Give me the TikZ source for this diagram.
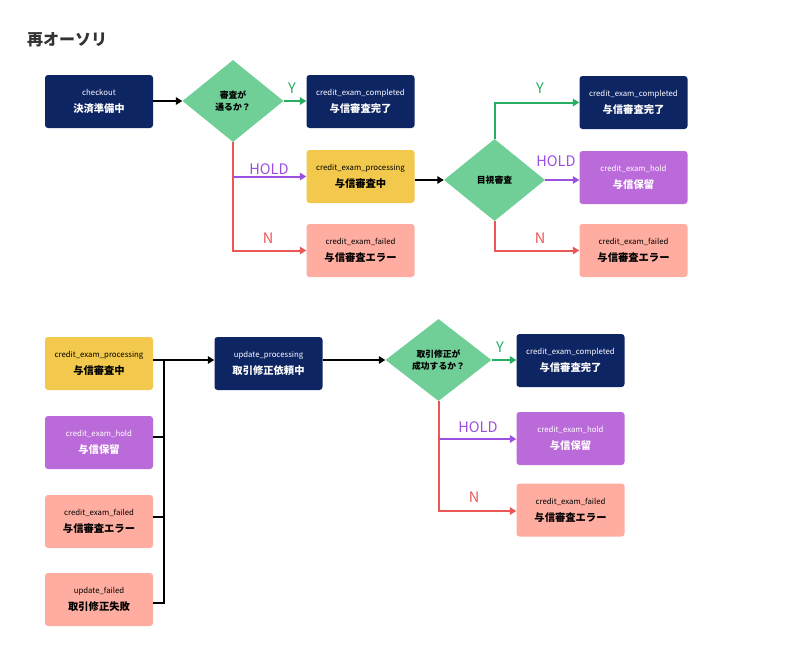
\documentclass[tikz,border=0pt]{standalone}
\usepackage{fontspec}
\setmainfont{Noto Sans CJK JP}
\usetikzlibrary{shapes.geometric,arrows.meta}
\definecolor{navy}{HTML}{0E2564}
\definecolor{dgreen}{HTML}{6FCF97}
\definecolor{yel}{HTML}{F2C94C}
\definecolor{purp}{HTML}{BB6BD9}
\definecolor{salmon}{HTML}{FFADA0}
\definecolor{lgreen}{HTML}{27AE60}
\definecolor{lpurp}{HTML}{9B51E0}
\definecolor{lred}{HTML}{EB5757}
\definecolor{ttl}{HTML}{333333}
\tikzset{
  box/.style={rounded corners=3pt, minimum width=108pt, minimum height=53pt, inner sep=0pt, align=center},
  navybox/.style={box, fill=navy, text=white},
  yelbox/.style={box, fill=yel, text=black},
  purpbox/.style={box, fill=purp, text=white},
  salbox/.style={box, fill=salmon, text=black},
  dia/.style={diamond, fill=dgreen, minimum width=101pt, minimum height=82pt, inner sep=0pt, align=center, font=\fontsize{8.8}{12}\selectfont\bfseries},
  conn/.style={line width=2pt},
  arr/.style={conn, -{Triangle[length=6.5pt,width=7.5pt]}},
  lab/.style={font=\fontsize{14.5}{16}\selectfont, inner sep=0pt},
}
\newcommand{\bx}[2]{{\fontsize{7.8}{9}\selectfont #1}\\[5pt]{\fontsize{10.3}{12}\selectfont\bfseries #2}}
\begin{document}
\begin{tikzpicture}[x=1pt,y=-1pt]
\useasboundingbox[fill=white] (0,0) rectangle (800,654);
\node[anchor=west, text=ttl, font=\fontsize{16}{18}\selectfont\bfseries, inner sep=0pt] (title) at (27,40) {再オーソリ};

% top row
\node[navybox] (co) at (99,101.5) {\bx{checkout}{決済準備中}};
\node[dia] (d1) at (233,101) {審査が\\通るか？};
\node[navybox] (c1) at (360.5,101.5) {\bx{credit\_exam\_completed}{与信審査完了}};
\node[yelbox] (p1) at (360.5,176.5) {\bx{credit\_exam\_processing}{与信審査中}};
\node[salbox] (f1) at (360.5,250.5) {\bx{credit\_exam\_failed}{与信審査エラー}};
\node[dia] (d2) at (494.5,180) {目視審査};
\node[navybox] (c2) at (633.5,102.5) {\bx{credit\_exam\_completed}{与信審査完了}};
\node[purpbox] (h2) at (633.5,177.5) {\bx{credit\_exam\_hold}{与信保留}};
\node[salbox] (f2) at (633.5,250.5) {\bx{credit\_exam\_failed}{与信審査エラー}};

\draw[arr] (co.east |- d1.west) -- (d1.west);
\draw[arr, lgreen] (d1.east) -- (c1.west |- d1.east);
\draw[arr, lred] (d1.south) |- (f1.west);
\draw[arr, lpurp] (d1.south |- p1.west) -- (p1.west);
\draw[arr] (p1.east |- d2.west) -- (d2.west);
\draw[arr, lgreen] (d2.north) |- (c2.west);
\draw[arr, lpurp] (d2.east) -- (h2.west |- d2.east);
\draw[arr, lred] (d2.south) |- (f2.west);

\node[lab, text=lgreen] (y1) at (292,88) {Y};
\node[lab, text=lpurp] (hl1) at (269,169) {HOLD};
\node[lab, text=lred] (n1) at (268,238) {N};
\node[lab, text=lgreen] (y2) at (540,88) {Y};
\node[lab, text=lpurp] (hl2) at (556,161) {HOLD};
\node[lab, text=lred] (n2) at (540,238) {N};

% bottom
\node[yelbox] (bp) at (99,363.5) {\bx{credit\_exam\_processing}{与信審査中}};
\node[purpbox] (bh) at (99,442.5) {\bx{credit\_exam\_hold}{与信保留}};
\node[salbox] (bf) at (99,521.5) {\bx{credit\_exam\_failed}{与信審査エラー}};
\node[salbox] (uf) at (99,599.5) {\bx{update\_failed}{取引修正失敗}};
\node[navybox] (up) at (268.5,363.5) {\bx{update\_processing}{取引修正依頼中}};
\node[dia, minimum width=106pt] (d3) at (438.5,360) {取引修正が\\成功するか？};
\node[navybox] (c3) at (570.5,360.5) {\bx{credit\_exam\_completed}{与信審査完了}};
\node[purpbox] (h3) at (570.5,438.5) {\bx{credit\_exam\_hold}{与信保留}};
\node[salbox] (f3) at (570.5,510) {\bx{credit\_exam\_failed}{与信審査エラー}};

\coordinate (bt) at (164,360);
\draw[arr] (bp.east |- bt) -- (up.west |- bt);
\draw[conn] (uf.east |- 0,603) -| (bt);
\draw[conn] (bh.east |- 0,437) -- (bt |- 0,437);
\draw[conn] (bf.east |- 0,517) -- (bt |- 0,517);
\draw[arr] (up.east |- d3.west) -- (d3.west);
\draw[arr, lgreen] (d3.east) -- (c3.west |- d3.east);
\draw[arr, lred] (d3.south) |- (f3.west |- 0,511);
\draw[arr, lpurp] (d3.south |- 0,439) -- (h3.west |- 0,439);

\node[lab, text=lgreen] (y3) at (500,347) {Y};
\node[lab, text=lpurp] (hl3) at (478,427) {HOLD};
\node[lab, text=lred] (n3) at (474,497) {N};
\end{tikzpicture}
\end{document}
